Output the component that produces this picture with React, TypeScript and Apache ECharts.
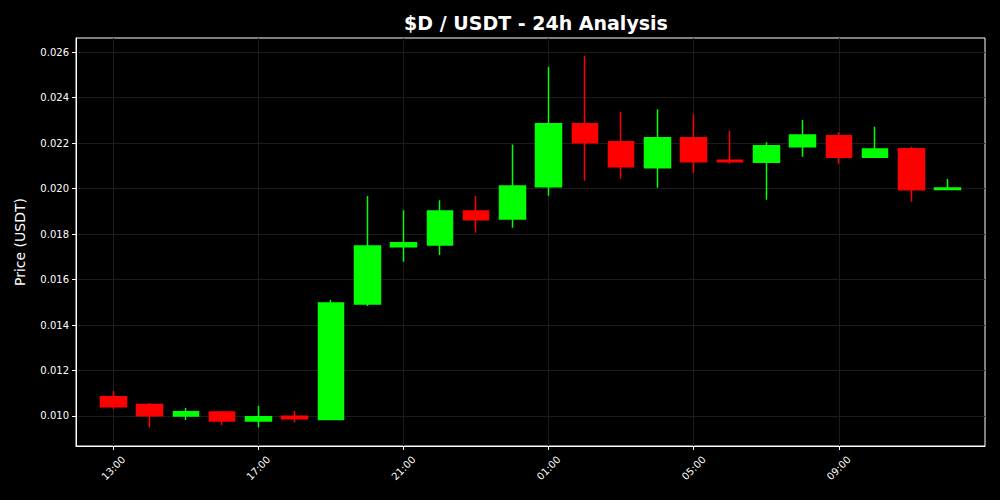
import React, { useEffect, useRef } from "react";
import * as echarts from "echarts";

const times = ["13:00","14:00","15:00","16:00","17:00","18:00","19:00","20:00","21:00","22:00","23:00","00:00","01:00","02:00","03:00","04:00","05:00","06:00","07:00","08:00","09:00","10:00","11:00","12:00"];
const opens  = [0.01085,0.01050,0.01000,0.01018,0.00978,0.00999,0.00984,0.01492,0.01744,0.01752,0.01901,0.01866,0.02008,0.02285,0.02206,0.02091,0.02223,0.02125,0.02116,0.02184,0.02232,0.02138,0.02175,0.01996];
const closes = [0.01041,0.01001,0.01019,0.00978,0.00997,0.00988,0.01497,0.01747,0.01762,0.01901,0.01863,0.02011,0.02285,0.02201,0.02096,0.02223,0.02118,0.02118,0.02188,0.02236,0.02138,0.02174,0.01995,0.02002];
const lows   = [0.01031,0.00949,0.00982,0.00960,0.00949,0.00971,0.00984,0.01484,0.01678,0.01708,0.01806,0.01828,0.01968,0.02034,0.02043,0.02004,0.02069,0.02109,0.01951,0.02140,0.02109,0.02135,0.01942,0.01992];
const highs  = [0.01110,0.01057,0.01035,0.01022,0.01044,0.01022,0.01510,0.01967,0.01905,0.01949,0.01967,0.02194,0.02535,0.02584,0.02338,0.02349,0.02327,0.02254,0.02204,0.02301,0.02248,0.02272,0.02184,0.02042];
const yTicks = [0.010,0.012,0.014,0.016,0.018,0.020,0.022,0.024,0.026];
const xTickIdx = [0,4,8,12,16,20];

export default function App() {
  const ref = useRef<HTMLDivElement>(null);
  useEffect(() => {
    if (!ref.current) return;
    const chart = echarts.init(ref.current, null, { renderer: "svg" });
    const data = times.map((_, i) => [i, opens[i], closes[i], lows[i], highs[i]]);
    const font = "DejaVu Sans";
    const gridColor = "#1c1c1c";
    chart.setOption({
      animation: false,
      backgroundColor: "#000000",
      title: {
        text: "$D / USDT - 24h Analysis",
        left: 531,
        textAlign: "center",
        top: 8,
        textStyle: { color: "#ffffff", fontSize: 19, fontWeight: "bold", fontFamily: font },
      },
      grid: {
        left: 76, right: 15, top: 38, bottom: 54,
        show: true, borderColor: "#ffffff", borderWidth: 1, backgroundColor: "#000000",
      },
      xAxis: {
        type: "value",
        min: -1.03,
        max: 24.03,
        axisLine: { show: true, onZero: false, lineStyle: { color: "#ffffff" } },
        axisTick: { show: true, customValues: xTickIdx, length: 4, lineStyle: { color: "#ffffff" } },
        axisLabel: {
          customValues: xTickIdx,
          rotate: 45,
          align: "center",
          verticalAlign: "middle",
          color: "#ffffff",
          fontSize: 10,
          fontFamily: font,
          margin: 22,
          formatter: (v: number) => times[Math.round(v)] ?? "",
        },
        splitLine: { show: true, lineStyle: { color: gridColor, type: "solid", width: 1 } },
      },
      yAxis: {
        type: "value",
        min: 0.00868,
        max: 0.02662,
        name: "Price (USDT)",
        nameLocation: "middle",
        nameGap: 49,
        nameTextStyle: { color: "#ffffff", fontSize: 14, fontFamily: font },
        axisLine: { show: true, onZero: false, lineStyle: { color: "#ffffff" } },
        axisTick: { show: true, customValues: yTicks, length: 4, lineStyle: { color: "#ffffff" } },
        axisLabel: {
          customValues: yTicks,
          color: "#ffffff",
          fontSize: 10,
          fontFamily: font,
          margin: 7,
          formatter: (v: number) => v.toFixed(3),
        },
        splitLine: { show: true, lineStyle: { color: gridColor, type: "solid", width: 1 } },
      },
      series: [
        {
          type: "candlestick",
          data,
          encode: { x: 0, y: [1, 2, 3, 4] },
          barWidth: 26,
          itemStyle: {
            color: "#00ff00",
            color0: "#ff0000",
            borderColor: "#00ff00",
            borderColor0: "#ff0000",
            borderWidth: 1.5,
          },
        },
      ],
    });
    return () => chart.dispose();
  }, []);
  return <div ref={ref} style={{ width: 1000, height: 500, position: "absolute", left: 0, top: 0 }} />;
}
